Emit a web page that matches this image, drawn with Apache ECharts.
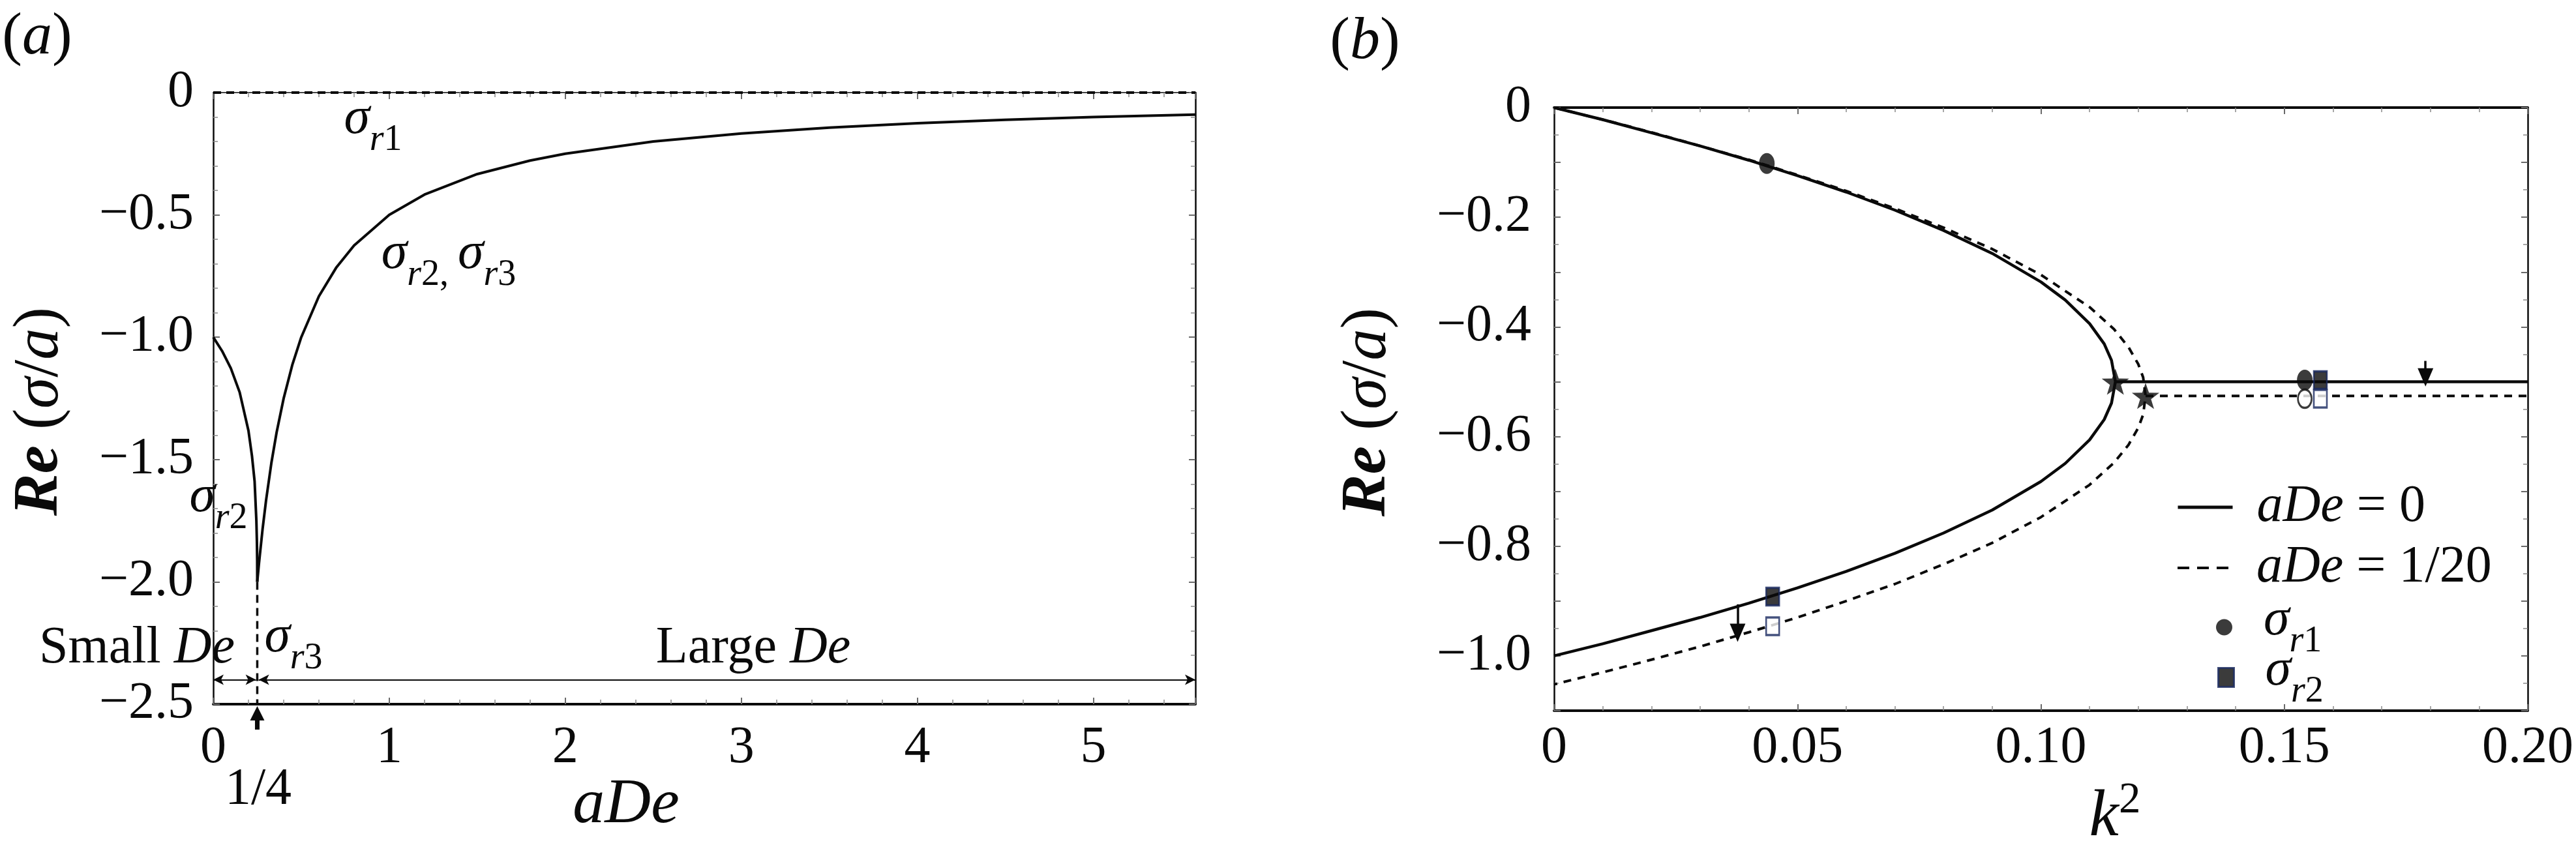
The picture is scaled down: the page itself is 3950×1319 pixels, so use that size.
<!DOCTYPE html>
<html>
<head>
<meta charset="utf-8">
<title>Re(σ/a) against aDe and k²</title>
<script src="https://cdn.jsdelivr.net/npm/echarts@6.0.0/dist/echarts.min.js"></script>
<style>
  html, body { margin: 0; padding: 0; background: #fff; }
  #chart { width: 3950px; height: 1319px; }
</style>
</head>
<body>
<div id="chart"></div>
<script>
const serif = '"Liberation Serif", "Times New Roman", Times, serif';
const ink = '#0a0a0a';
const navy = '#16275e';

// (a) Re(sigma/a) against aDe
const aDeRange = [0, 5.58];
const reRangeA = [-2.5, 0];
const aDeSmall = [0, 0.05, 0.10, 0.15, 0.20, 0.22, 0.235, 0.245, 0.248, 0.2495, 0.25];
const sigmaR2Small = [-1.0, -1.056, -1.127, -1.225, -1.382, -1.485, -1.59, -1.75, -1.836, -1.914, -2.0];
const aDeLarge = [0.25, 0.26, 0.28, 0.30, 0.33, 0.36, 0.40, 0.45, 0.50, 0.60, 0.70, 0.80, 1.0, 1.2, 1.5, 1.8, 2.0, 2.5, 3.0, 3.5, 4.0, 4.5, 5.0, 5.58];
const sigmaLarge = [-2.0, -1.923, -1.786, -1.667, -1.515, -1.389, -1.25, -1.111, -1.0, -0.833, -0.714, -0.625, -0.5, -0.417, -0.333, -0.278, -0.25, -0.2, -0.167, -0.143, -0.125, -0.111, -0.1, -0.09];
const quarter = 0.25;
const sigmaR3Drop = [-2.0, -2.5];
const sigmaR1 = [0, 0];
const deBandY = -2.4;
const smallDeBand = [0, 0.243];
const largeDeBand = [0.258, 5.58];

// (b) Re(sigma/a) against k^2
const k2Range = [0, 0.2];
const reRangeB = [-1.1, 0];
const k2Solid = [0, 0.01, 0.02, 0.03, 0.04, 0.05, 0.06, 0.07, 0.08, 0.09, 0.10, 0.105, 0.11, 0.113, 0.1145, 0.1153];
const solidUpper = [0, -0.022, -0.046, -0.070, -0.096, -0.124, -0.154, -0.187, -0.224, -0.266, -0.318, -0.351, -0.394, -0.431, -0.461, -0.5];
const solidLower = [-1.0, -0.978, -0.954, -0.930, -0.904, -0.876, -0.846, -0.813, -0.776, -0.734, -0.682, -0.649, -0.606, -0.569, -0.539, -0.5];
const solidPlateau = [[0.1153, -0.5], [0.2, -0.5]];
const k2Dashed = [0, 0.01, 0.02, 0.03, 0.04, 0.05, 0.06, 0.07, 0.08, 0.09, 0.10, 0.11, 0.115, 0.118, 0.12, 0.121, 0.1215];
const dashedUpper = [0, -0.022, -0.045, -0.070, -0.095, -0.123, -0.152, -0.184, -0.219, -0.258, -0.305, -0.364, -0.404, -0.437, -0.468, -0.492, -0.526];
const dashedLower = [-1.052, -1.030, -1.007, -0.983, -0.957, -0.930, -0.900, -0.869, -0.833, -0.794, -0.747, -0.688, -0.648, -0.615, -0.584, -0.560, -0.526];
const dashedPlateau = [[0.1215, -0.526], [0.2, -0.526]];
const sr1Filled = [[0.0437, -0.102], [0.1542, -0.497]];
const sr1Open = [[0.1542, -0.531]];
const sr2Filled = [[0.0449, -0.892], [0.1574, -0.497]];
const sr2Open = [[0.0449, -0.946], [0.1574, -0.531]];
const branchStars = [[0.1153, -0.5], [0.1215, -0.526]];
const shiftArrows = [
  [[0.0377, -0.906], [0.0377, -0.958]],
  [[0.179, -0.462], [0.179, -0.492]],
];

const legendText = {
  aDe0: '{it|aDe} = 0',
  aDe20: '{it|aDe} = 1/20',
  sr1: '{s|σ}{r|r}{n|1}',
  sr2: '{s|σ}{r|r}{n|2}',
};

const ellipse = 'path://M0,-1 C0.5523,-1 1,-0.5523 1,0 C1,0.5523 0.5523,1 0,1 C-0.5523,1 -1,0.5523 -1,0 C-1,-0.5523 -0.5523,-1 0,-1 Z';
const star = 'path://M0,-10 L2.35,-3.24 L9.51,-3.09 L3.8,1.24 L5.88,8.09 L0,4 L-5.88,8.09 L-3.8,1.24 L-9.51,-3.09 L-2.35,-3.24 Z';

function zip(xs, ys) {
  return xs.map((x, i) => [x, ys[i]]);
}

function tok(size, style, extra) {
  return Object.assign({
    fontFamily: serif, fontSize: size, fontStyle: style || 'normal',
    fontWeight: 'normal', color: ink, fill: ink,
  }, extra || {});
}

function richSet(base) {
  const sub = Math.round(base * 0.7);
  return {
    t: tok(base),
    it: tok(base, 'italic'),
    b: tok(base, 'italic', { fontWeight: 'bold' }),
    s: tok(base, 'italic', { verticalAlign: 'bottom', padding: [0, 0, Math.round(base * 0.25), 0] }),
    r: tok(sub, 'italic', { verticalAlign: 'bottom' }),
    n: tok(sub, 'normal', { verticalAlign: 'bottom' }),
    c: tok(sub, 'normal', { verticalAlign: 'bottom' }),
    kb: tok(base, 'italic', { verticalAlign: 'bottom' }),
    sup: tok(Math.round(base * 0.66), 'normal', { verticalAlign: 'bottom', padding: [0, 0, Math.round(base * 0.42), 0] }),
  };
}

function minusFmt(v, digits) {
  if (Math.abs(v) < 1e-9) return '0';
  return (v < 0 ? '\u2212' : '') + Math.abs(v).toFixed(digits);
}

function axis(grid, pos, range, interval, minorSplit, lineWidth, label) {
  const ax = {
    type: 'value', gridIndex: grid, position: pos,
    min: range[0], max: range[1], interval: interval,
    splitLine: { show: false },
    axisLine: { show: true, onZero: false, lineStyle: { color: ink, width: lineWidth } },
    axisTick: { show: true, inside: true, length: 10, lineStyle: { color: '#6a6a6a', width: 2 } },
    minorTick: { show: true, splitNumber: minorSplit, length: 7, lineStyle: { color: '#8a8a8a', width: 1.5 } },
    axisLabel: { show: false },
  };
  if (label) {
    ax.axisLabel = Object.assign({
      show: true, fontFamily: serif, fontSize: 80, color: ink,
    }, label);
  }
  return ax;
}

function text(id, x, y, str, size, extra) {
  return Object.assign({
    type: 'text', id: id, x: x, y: y, z: 20,
    style: {
      text: str, rich: richSet(size),
      fontFamily: serif, fontSize: size, fill: ink,
      align: 'center', verticalAlign: 'middle',
      textAlign: 'center', textVerticalAlign: 'middle',
    },
  }, extra || {});
}

function legendEntry(name, left, top, w, h, textPad, extra) {
  return Object.assign({
    data: [name], left: left, top: top, padding: 0, orient: 'vertical',
    itemWidth: w, itemHeight: h, selectedMode: false,
    formatter: (n) => legendText[n],
    textStyle: {
      fontFamily: serif, fontSize: 80, color: ink,
      padding: [0, 0, 0, textPad], rich: richSet(80),
    },
  }, extra || {});
}

const solidBranches = zip(k2Solid, solidUpper).concat(zip(k2Solid, solidLower).reverse().slice(1));
const dashedBranches = zip(k2Dashed, dashedUpper).concat(zip(k2Dashed, dashedLower).reverse().slice(1));

// line entries only show their stroke, the centre dot is hidden
const noDot = { color: 'rgba(0,0,0,0)', borderWidth: 0, opacity: 0 };

const option = {
  animation: false,
  backgroundColor: '#fff',
  textStyle: { fontFamily: serif },
  grid: [
    { left: 327, top: 142, width: 1506, height: 938, outerBoundsMode: 'none' },
    { left: 2383, top: 165, width: 1493, height: 925, outerBoundsMode: 'none' },
  ],
  xAxis: [
    axis(0, 'bottom', aDeRange, 1, 5, 4, {
      margin: 28, showMaxLabel: false, formatter: (v) => minusFmt(v, 0),
    }),
    axis(0, 'top', aDeRange, 1, 5, 1.5),
    axis(1, 'bottom', k2Range, 0.05, 5, 4, {
      margin: 18, formatter: (v) => minusFmt(v, 2),
    }),
    axis(1, 'top', k2Range, 0.05, 5, 4),
  ],
  yAxis: [
    axis(0, 'left', reRangeA, 0.5, 5, 2.5, {
      margin: 30, formatter: (v) => minusFmt(v, 1),
    }),
    axis(0, 'right', reRangeA, 0.5, 5, 2.5),
    axis(1, 'left', reRangeB, 0.1, 2, 2.5, {
      margin: 35,
      formatter: (v) => (Math.round(v * 10) % 2 !== 0 ? '' : minusFmt(v, 1)),
    }),
    axis(1, 'right', reRangeB, 0.1, 2, 2.5),
  ],
  legend: [
    legendEntry('aDe0', 3337, 738, 84, 20, 32, { lineStyle: { width: 5 }, itemStyle: noDot }),
    legendEntry('aDe20', 3337, 831, 84, 20, 32, { lineStyle: { width: 4, type: [18, 12] }, itemStyle: noDot }),
    legendEntry('sr1', 3398, 912, 25, 30, 43, { itemStyle: { color: ink } }),
    legendEntry('sr2', 3400, 989, 24, 29, 43, { itemStyle: { color: ink, borderWidth: 3, borderColor: navy } }),
  ],
  series: [
    // (a)
    {
      name: 'sigmaR2small', type: 'line', xAxisIndex: 0, yAxisIndex: 0,
      data: zip(aDeSmall, sigmaR2Small), showSymbol: false, symbol: 'none',
      lineStyle: { color: ink, width: 4 }, z: 3,
    },
    {
      name: 'sigmaR23large', type: 'line', xAxisIndex: 0, yAxisIndex: 0,
      data: zip(aDeLarge, sigmaLarge), showSymbol: false, symbol: 'none',
      lineStyle: { color: ink, width: 4 }, z: 3,
    },
    {
      name: 'sigmaR3drop', type: 'line', xAxisIndex: 0, yAxisIndex: 0, clip: false,
      data: zip([quarter, quarter], sigmaR3Drop), showSymbol: false, symbol: 'none',
      lineStyle: { color: ink, width: 3.5, type: [12, 8] }, z: 3,
    },
    {
      name: 'sigmaR1', type: 'line', xAxisIndex: 0, yAxisIndex: 0, clip: false,
      data: zip(aDeRange, sigmaR1), showSymbol: false, symbol: 'none',
      lineStyle: { color: ink, width: 4, type: [12, 8] }, z: 3,
      markLine: {
        silent: true, animation: false,
        symbol: ['arrow', 'arrow'], symbolSize: [12, 16],
        label: { show: false },
        lineStyle: { color: ink, width: 1.8, type: 'solid' },
        emphasis: { disabled: true },
        data: [
          [{ coord: [smallDeBand[0], deBandY] }, { coord: [smallDeBand[1], deBandY] }],
          [{ coord: [largeDeBand[0], deBandY] }, { coord: [largeDeBand[1], deBandY] }],
        ],
      },
    },
    // (b)
    {
      name: 'aDe0', type: 'line', xAxisIndex: 2, yAxisIndex: 2,
      data: solidBranches, showSymbol: false, symbol: 'none',
      itemStyle: { color: ink },
      lineStyle: { color: ink, width: 4.5 }, z: 3,
    },
    {
      name: 'aDe0plateau', type: 'line', xAxisIndex: 2, yAxisIndex: 2,
      data: solidPlateau, showSymbol: false, symbol: 'none',
      lineStyle: { color: ink, width: 4.5 }, z: 3,
    },
    {
      name: 'aDe20', type: 'line', xAxisIndex: 2, yAxisIndex: 2,
      data: dashedBranches, showSymbol: false, symbol: 'none',
      itemStyle: { color: ink },
      lineStyle: { color: ink, width: 4, type: [12, 10] }, z: 3,
    },
    {
      name: 'aDe20plateau', type: 'line', xAxisIndex: 2, yAxisIndex: 2,
      data: dashedPlateau, showSymbol: false, symbol: 'none',
      lineStyle: { color: ink, width: 4, type: [12, 10] }, z: 3,
      markLine: {
        silent: true, animation: false,
        symbol: ['none', 'triangle'], symbolSize: [24, 28],
        label: { show: false },
        lineStyle: { color: ink, width: 3.5, type: 'solid' },
        emphasis: { disabled: true },
        data: shiftArrows.map((a) => [{ coord: a[0] }, { coord: a[1] }]),
      },
    },
    {
      name: 'stars', type: 'scatter', xAxisIndex: 2, yAxisIndex: 2,
      data: branchStars, symbol: star, symbolSize: [42, 40],
      itemStyle: { color: ink }, z: 6,
    },
    {
      name: 'sr1', type: 'scatter', xAxisIndex: 2, yAxisIndex: 2,
      data: sr1Filled, symbol: ellipse, symbolSize: [24, 32],
      itemStyle: { color: ink }, z: 6,
    },
    {
      name: 'sr1open', type: 'scatter', xAxisIndex: 2, yAxisIndex: 2,
      data: sr1Open, symbol: ellipse, symbolSize: [21, 28],
      itemStyle: { color: '#fff', borderColor: ink, borderWidth: 3 }, z: 6,
    },
    {
      name: 'sr2', type: 'scatter', xAxisIndex: 2, yAxisIndex: 2,
      data: sr2Filled, symbol: 'rect', symbolSize: [20, 27],
      itemStyle: { color: ink, borderColor: navy, borderWidth: 3 }, z: 6,
    },
    {
      name: 'sr2open', type: 'scatter', xAxisIndex: 2, yAxisIndex: 2,
      data: sr2Open, symbol: 'rect', symbolSize: [20, 27],
      itemStyle: { color: '#fff', borderColor: navy, borderWidth: 3 }, z: 6,
    },
  ],
  graphic: [
    text('labA', 57, 58, '{t|(}{it|a}{t|)}', 92),
    text('labB', 2093, 65, '{t|(}{it|b}{t|)}', 92),
    text('yTitleA', 62, 631, '{b|Re}{t| (}{it|σ}{t|/}{it|a}{t|)}', 97, { rotation: Math.PI / 2 }),
    text('yTitleB', 2098, 632, '{b|Re}{t| (}{it|σ}{t|/}{it|a}{t|)}', 97, { rotation: Math.PI / 2 }),
    text('xTitleA', 960, 1235, '{it|aDe}', 98),
    text('xTitleB', 3243, 1250, '{kb|k}{sup|2}', 102),
    text('quarterLab', 396, 1212, '{t|1/4}', 80),
    text('smallDe', 210, 995, '{t|Small }{it|De}', 80),
    text('largeDe', 1155, 995, '{t|Large }{it|De}', 80),
    text('sr1Lab', 572, 193, '{s|σ}{r|r}{n|1}', 80),
    text('sr23Lab', 688, 400, '{s|σ}{r|r}{n|2}{c|, }{s|σ}{r|r}{n|3}', 80),
    text('sr2Lab', 335, 773, '{s|σ}{r|r}{n|2}', 80),
    text('sr3Lab', 450, 988, '{s|σ}{r|r}{n|3}', 80),
  ],
};

const chart = echarts.init(document.getElementById('chart'), null, { renderer: 'canvas' });
chart.setOption(option);

// arrow under the aDe axis pointing at 1/4
const foot = chart.convertToPixel({ gridIndex: 0 }, [quarter, reRangeA[0]]);
const px = foot[0];
const py = foot[1];
chart.setOption({
  graphic: [{
    id: 'quarterArrow', type: 'polygon', z: 20,
    shape: {
      points: [
        [px, py + 3], [px + 11, py + 25], [px + 3.5, py + 25], [px + 3.5, py + 39],
        [px - 3.5, py + 39], [px - 3.5, py + 25], [px - 11, py + 25],
      ],
    },
    style: { fill: ink },
  }],
});
</script>
</body>
</html>
